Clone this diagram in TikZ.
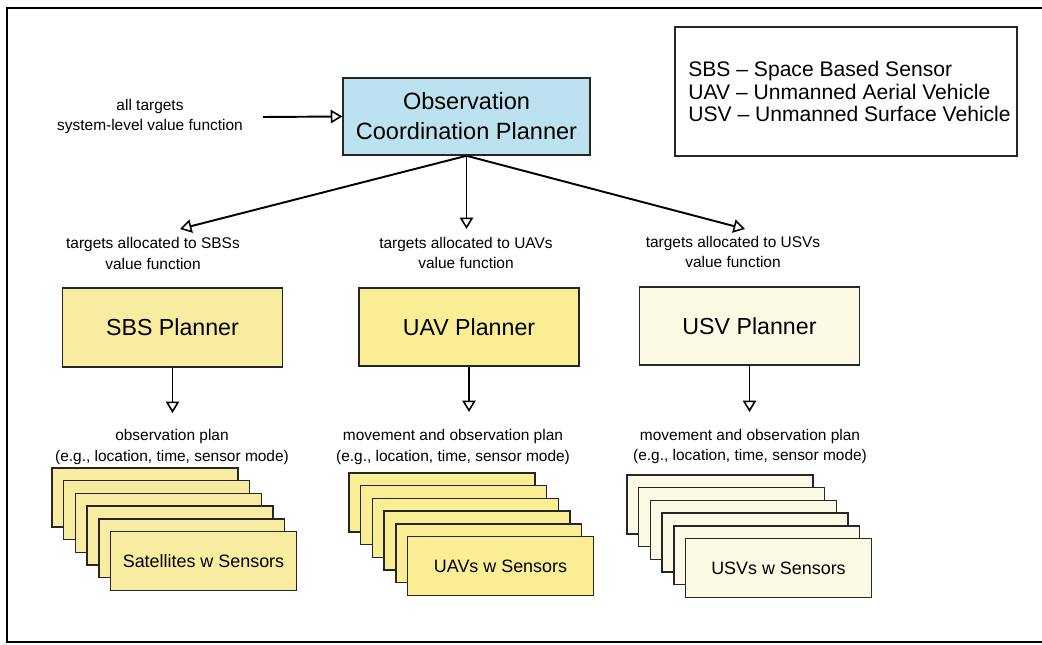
\documentclass[tikz,border=0pt]{standalone}
\usepackage{fontspec}
\setmainfont{Liberation Sans}
\usepackage{xcolor}
\definecolor{ocpBlue}{HTML}{BCE2F0}
\definecolor{sbsYellow}{HTML}{F8ECA0}
\definecolor{uavYellow}{HTML}{F9EE94}
\definecolor{usvCream}{HTML}{FCFAE4}
\usepackage{tikz}
\usetikzlibrary{arrows.meta,positioning,calc}

\begin{document}
\begin{tikzpicture}[
  x=0.02cm, y=-0.02cm,
  frame/.style={draw=black, line width=1.4pt},
  legendBox/.style={draw=black!85, line width=0.9pt, minimum width=6.84cm, minimum height=2.58cm, inner sep=0pt, align=left, font=\fontsize{12}{12.6}\selectfont},
  topBox/.style={draw=black!85, line width=0.9pt, fill=ocpBlue, minimum width=4.94cm, minimum height=1.54cm, inner sep=0pt, align=center, font=\fontsize{13.4}{17}\selectfont},
  planner/.style={draw=black!85, line width=0.9pt, minimum width=4.4cm, minimum height=1.57cm, inner sep=0pt, font=\fontsize{13.2}{16}\selectfont},
  platform/.style={draw=black!85, line width=0.8pt, minimum width=3.72cm, minimum height=1.18cm, inner sep=0pt, font=\fontsize{10.2}{12}\selectfont},
  note/.style={align=center, inner sep=0pt, font=\fontsize{8.8}{11.9}\selectfont},
  flow/.style={draw=black, line width=1.1pt, -{Triangle[open, length=2.3mm, width=2.7mm, line width=0.9pt]}},
]

\useasboundingbox (0,0) rectangle (1042,645);

% outer frame (open to the right)
\draw[frame] (1042,8) -- (7,8) -- (7,642) -- (1042,642);

% legend
\node[legendBox] (legend) at (846,91.5) {\hspace*{4pt}SBS -- Space Based Sensor\\\hspace*{4pt}UAV -- Unmanned Aerial Vehicle\\\hspace*{4pt}USV -- Unmanned Surface Vehicle};

% top level planner and its input
\node[topBox] (ocp) at (466.5,116.5) {Observation\\Coordination Planner};
\node[note] (input) at (150,116.5) {all targets\\system-level value function};
\coordinate (inStart) at (263,117);
\draw[flow] (inStart) -- (ocp.west);

% allocation to the three planners
\coordinate (sbsIn) at (180,229);
\coordinate (uavIn) at (466.5,229);
\coordinate (usvIn) at (745,229);
\foreach \tip in {sbsIn,uavIn,usvIn} {
  \draw[flow] (ocp.south) -- (\tip);
}
\node[note] (sbsAlloc) at (153,253.5) {targets allocated to SBSs\\value function};
\node[note] (uavAlloc) at (466,253) {targets allocated to UAVs\\value function};
\node[note] (usvAlloc) at (733,252) {targets allocated to USVs\\value function};

% planners
\node[planner, fill=sbsYellow] (sbs) at (172.5,327.5) {SBS Planner};
\node[planner, fill=uavYellow] (uav) at (469,327) {UAV Planner};
\node[planner, fill=usvCream] (usv) at (749.5,326) {USV Planner};

% plans handed down
\coordinate (sbsOut) at (172.5,413);
\coordinate (uavOut) at (469,412);
\coordinate (usvOut) at (749.5,412);
\foreach \p in {sbs,uav,usv} {
  \draw[flow] (\p.south) -- (\p Out);
}
\node[note] (sbsPlan) at (172,447) {observation plan\\(e.g., location, time, sensor mode)};
\node[note] (uavPlan) at (453,447) {movement and observation plan\\(e.g., location, time, sensor mode)};
\node[note] (usvPlan) at (750,446.5) {movement and observation plan\\(e.g., location, time, sensor mode)};

% stacks of platforms (5 behind, 1 in front)
\foreach \grp/\x/\y/\col/\txt in {sat/52/468/sbsYellow/Satellites w Sensors,
                                  uavs/349/473/uavYellow/UAVs w Sensors,
                                  usvs/627/475/usvCream/USVs w Sensors} {
  \foreach \i in {0,...,4} {
    \node[platform, fill=\col] (\grp\i) at (\x+93+11.7*\i, \y+29.5+12.7*\i) {};
  }
  \node[platform, fill=\col] (\grp Front) at (\x+93+58.5, \y+29.5+63.5) {\txt};
}

\end{tikzpicture}
\end{document}
